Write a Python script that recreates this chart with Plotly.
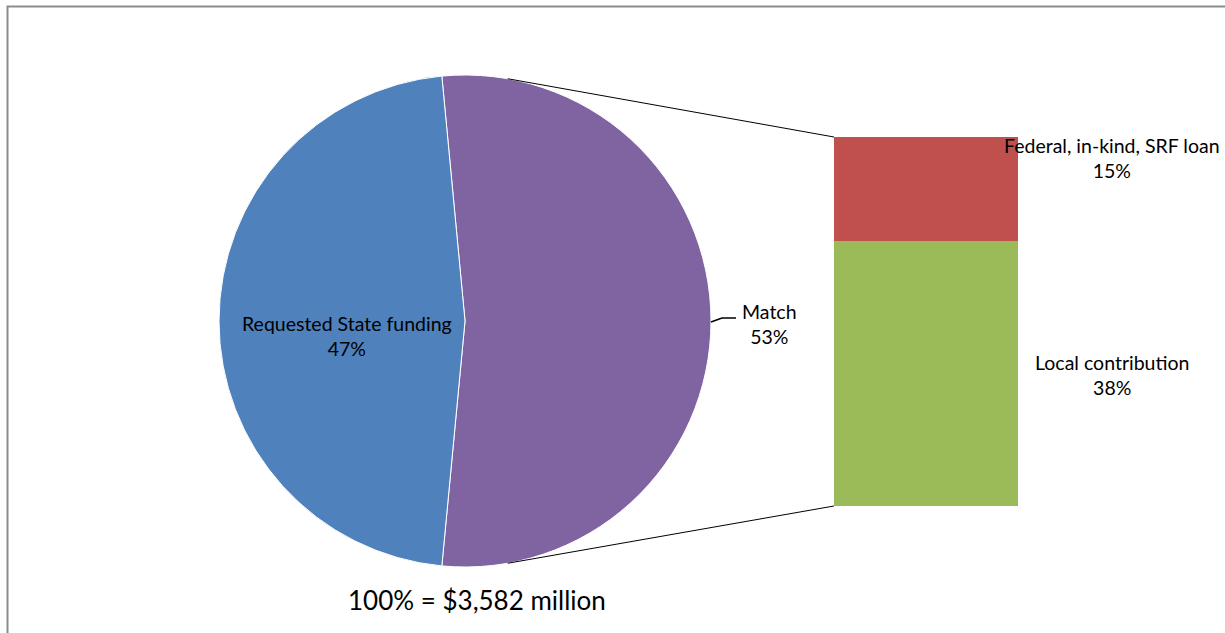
import math
import plotly.graph_objects as go

# Funding split (percent of total)
pie_labels = ["Match", "Requested State funding"]
pie_values = [53, 47]
pie_colors = ["#8064A2", "#4F81BD"]

# Breakdown of the "Match" share
bar_labels = ["Local contribution", "Federal, in-kind, SRF loan"]
bar_values = [38, 15]
bar_colors = ["#9BBB59", "#C0504D"]

total_note = "100% = $3,582 million"

W, H = 1225, 633
FONT = "Lato"


def px(x):
    return x / W


def py(y):
    return 1 - y / H


# Pie geometry in pixels
cx, cy, r = 465, 321, 246
pie_dom_x = [px(cx - r), px(cx + r)]
pie_dom_y = [py(cy + r), py(cy - r)]

# Bar geometry in pixels
bar_left, bar_right, bar_top, bar_bottom = 834, 1018, 137, 506
bar_dom_x = [px(bar_left), px(bar_right)]
bar_dom_y = [py(bar_bottom), py(bar_top)]

match_share = pie_values[0] / sum(pie_values)
rotation = 90 - match_share * 360 / 2

fig = go.Figure()

fig.add_trace(go.Pie(
    labels=pie_labels,
    values=pie_values,
    sort=False,
    direction="clockwise",
    rotation=rotation,
    marker=dict(colors=pie_colors, line=dict(color="white", width=1)),
    textinfo="none",
    hoverinfo="label+percent",
    domain=dict(x=pie_dom_x, y=pie_dom_y),
    showlegend=False,
))

for lab, val, col in zip(bar_labels, bar_values, bar_colors):
    fig.add_trace(go.Bar(
        x=["Match"],
        y=[val],
        name=lab,
        marker=dict(color=col, line=dict(width=0)),
        width=1,
        showlegend=False,
        xaxis="x",
        yaxis="y",
    ))

shapes = []

# Connector lines from the pie edge to the bar corners
ang = math.radians(10)
top_pt = (cx + r * math.sin(ang), cy - r * math.cos(ang))
bot_pt = (cx + r * math.sin(ang), cy + r * math.cos(ang))
for (x0, y0), yb in [(top_pt, bar_dom_y[1]), (bot_pt, bar_dom_y[0])]:
    shapes.append(dict(
        type="line", xref="paper", yref="paper",
        x0=px(x0), y0=py(y0), x1=bar_dom_x[0], y1=yb,
        line=dict(color="black", width=1),
    ))

# Leader line for the Match label
mx, my = cx + r, cy
shapes.append(dict(
    type="path", xref="paper", yref="paper",
    path=f"M {px(mx)},{py(my + 1)} L {px(mx + 11)},{py(my - 3)} L {px(mx + 25)},{py(my - 3)}",
    line=dict(color="black", width=1.5),
))

# Chart frame
shapes.append(dict(
    type="rect", xref="paper", yref="paper",
    x0=px(7.5), x1=1.02, y0=-0.02, y1=py(6.5),
    line=dict(color="#8C8C8C", width=2),
    fillcolor="rgba(0,0,0,0)", layer="below",
))

lab_font = dict(family=FONT, size=19.5, color="black")
annotations = [
    dict(x=px(347), y=py(336), text=f"{pie_labels[1]}<br>{pie_values[1]}%"),
    dict(x=px(769), y=py(324), text=f"{pie_labels[0]}<br>{pie_values[0]}%"),
    dict(x=px(1112), y=py(158), text=f"{bar_labels[1]}<br>{bar_values[1]}%"),
    dict(x=px(1112), y=py(375), text=f"{bar_labels[0]}<br>{bar_values[0]}%"),
]
for a in annotations:
    a.update(xref="paper", yref="paper", showarrow=False, font=lab_font,
             xanchor="center", yanchor="middle", align="center")
annotations.append(dict(
    x=px(477), y=py(600), xref="paper", yref="paper", showarrow=False,
    text=total_note, font=dict(family=FONT, size=26, color="black"),
    xanchor="center", yanchor="middle",
))

fig.update_layout(
    width=W, height=H,
    margin=dict(l=0, r=0, t=0, b=0),
    paper_bgcolor="white",
    plot_bgcolor="rgba(0,0,0,0)",
    barmode="stack",
    bargap=0,
    xaxis=dict(domain=bar_dom_x, range=[-0.5, 0.5], visible=False, fixedrange=True),
    yaxis=dict(domain=bar_dom_y, range=[0, sum(bar_values)], visible=False, fixedrange=True),
    shapes=shapes,
    annotations=annotations,
    font=dict(family=FONT),
)

fig.write_html("out.html")
